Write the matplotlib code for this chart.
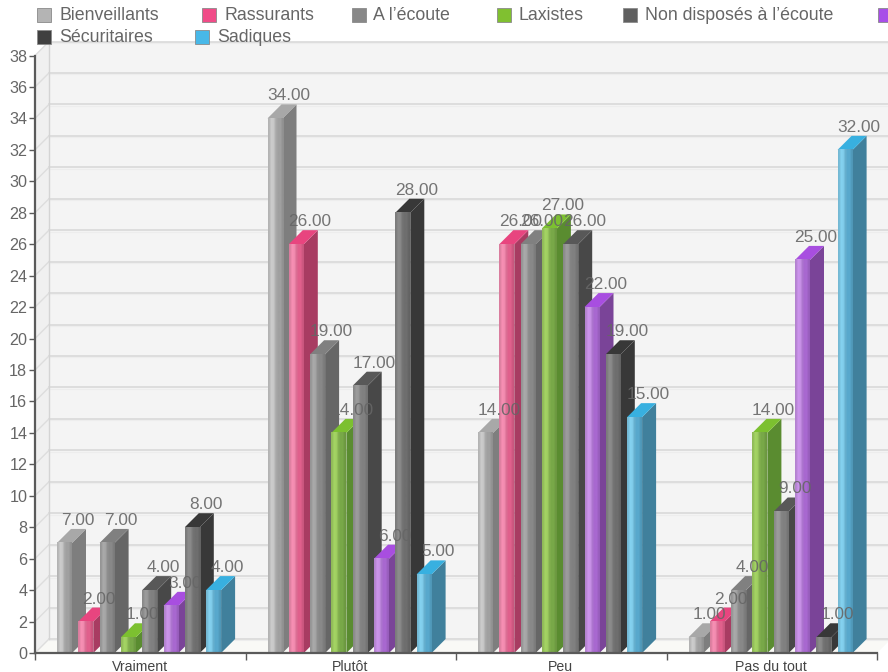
import numpy as np
import matplotlib
matplotlib.use("Agg")
import matplotlib.pyplot as plt
from matplotlib.patches import Polygon, Rectangle
from matplotlib.colors import to_rgb

categories = ["Vraiment", "Plutôt", "Peu", "Pas du tout"]
series_names = ["Bienveillants", "Rassurants", "A l’écoute", "Laxistes",
                "Non disposés à l’écoute", "", "Sécuritaires", "Sadiques"]

bienveillants = [7, 34, 14, 1]
rassurants = [2, 26, 26, 2]
a_lecoute = [7, 19, 26, 4]
laxistes = [1, 14, 27, 14]
non_disposes = [4, 17, 26, 9]
violets = [3, 6, 22, 25]
securitaires = [8, 28, 19, 1]
sadiques = [4, 5, 15, 32]
all_series = [bienveillants, rassurants, a_lecoute, laxistes,
              non_disposes, violets, securitaires, sadiques]

y_ticks = list(range(0, 39, 2))

# swatch, top, side, front left, front right
palette = [
    ("#b4b4b4", "#a8a8a8", "#7e7e7e", "#cccccc", "#a0a0a0"),
    ("#f04c88", "#e8457f", "#a83c62", "#f78fb4", "#e0608c"),
    ("#888888", "#808080", "#666666", "#aaaaaa", "#888888"),
    ("#80c030", "#7cc030", "#5a8c30", "#a4d464", "#78a848"),
    ("#606060", "#585858", "#484848", "#9c9c9c", "#808080"),
    ("#a84ee8", "#a84ee0", "#7a4498", "#cc94ec", "#a868d0"),
    ("#404040", "#383838", "#383838", "#8c8c8c", "#6e6e6e"),
    ("#48b8e8", "#38b0e0", "#40809c", "#84d2f0", "#58a8cc"),
]

W, H = 888, 672
LEFT, RIGHT, BASE, TOP = 35, 877, 653, 55.5
CAT_PX = (RIGHT - LEFT) / len(categories)
UNIT_PX = (BASE - TOP) / 38
DEPTH = 14
BAR_PX = 15
FIRST_PX = 22
STEP_PX = 21.3

plt.rcParams["font.family"] = ["Liberation Sans", "DejaVu Sans"]
TEXT = "#666666"

fig = plt.figure(figsize=(W / 100, H / 100), dpi=100, facecolor="white")
ax = fig.add_axes([LEFT / W, 1 - BASE / H, (RIGHT - LEFT) / W, (BASE - TOP) / H])
ax.set_xlim(0, len(categories))
ax.set_ylim(0, 38)
ax.patch.set_visible(False)

dx = DEPTH / CAT_PX
dy = DEPTH / UNIT_PX
xmax = len(categories)

# back wall, side wall and floor
ax.add_patch(Rectangle((dx, dy), xmax, 38, fc="#f4f4f4", ec="none", zorder=1, clip_on=False))
ax.add_patch(Polygon([(0, 0), (dx, dy), (dx, 38 + dy), (0, 38)], fc="#f0f0f0", ec="none",
                     zorder=1, clip_on=False))
ax.add_patch(Polygon([(0, 0), (xmax, 0), (xmax + dx, dy), (dx, dy)], fc="#f9f9f6", ec="none",
                     zorder=1, clip_on=False))

for v in y_ticks:
    ax.plot([dx, xmax + dx], [v + dy, v + dy], color="#d6d6d6", lw=1.1, zorder=2, clip_on=False)
    ax.plot([dx, xmax + dx], [v + dy - 0.09, v + dy - 0.09], color="#ededed", lw=0.8, zorder=2, clip_on=False)
    ax.plot([0, dx], [v, v + dy], color="#dddddd", lw=1.0, zorder=2, clip_on=False)
ax.plot([dx, dx], [dy, 38 + dy], color="#d4d4d4", lw=1.0, zorder=2, clip_on=False)

# bars, left to right so each one sits in front of the previous side face
z = 3.0
bw = BAR_PX / CAT_PX
for s, values in enumerate(all_series):
    _, top_c, side_c, f_left, f_right = palette[s]
    c0, c1 = np.array(to_rgb(f_left)), np.array(to_rgb(f_right))
    ramp = np.array([c0 * 0.88, c0, c0 * 0.98, (c0 + c1) / 2 * 0.93, c1, c1, c1 * 0.9])
    for c, v in enumerate(values):
        x0 = c + (FIRST_PX + s * STEP_PX) / CAT_PX
        ax.add_patch(Polygon([(x0 + bw, 0), (x0 + bw + dx, dy), (x0 + bw + dx, v + dy), (x0 + bw, v)],
                             fc=side_c, ec="none", zorder=z, clip_on=False))
        ax.add_patch(Polygon([(x0, v), (x0 + bw, v), (x0 + bw + dx, v + dy), (x0 + dx, v + dy)],
                             fc=top_c, ec="none", zorder=z, clip_on=False))
        ax.imshow(ramp[np.newaxis, :, :], extent=(x0, x0 + bw, 0, v), aspect="auto",
                  interpolation="bilinear", zorder=z + 0.1, clip_on=False)
        z += 0.2

ax.set_xlim(0, len(categories))
ax.set_ylim(0, 38)

# value labels go above everything else
for s, values in enumerate(all_series):
    for c, v in enumerate(values):
        x0 = c + (FIRST_PX + s * STEP_PX) / CAT_PX
        ax.text(x0 + 21 / CAT_PX, v + dy + 4 / UNIT_PX, f"{v:.2f}", ha="center", va="baseline",
                fontsize=12.4, color=TEXT, alpha=0.9, zorder=50, clip_on=False)

# axes
for side in ("top", "right"):
    ax.spines[side].set_visible(False)
for side in ("left", "bottom"):
    ax.spines[side].set_color("#5a5a5a")
    ax.spines[side].set_linewidth(1.6)
    ax.spines[side].set_zorder(40)

ax.set_yticks(y_ticks)
ax.set_yticklabels([str(v) for v in y_ticks])
ax.tick_params(axis="y", length=4.5, width=1, color="#5a5a5a", labelcolor=TEXT, labelsize=11.6, pad=1)
ax.set_xticks(range(len(categories) + 1))
ax.set_xticklabels([])
ax.tick_params(axis="x", length=5, width=1, color="#5a5a5a")
for c, name in enumerate(categories):
    ax.text(c + 0.5 - 0.5 / CAT_PX, -0.42, name, ha="center", va="top", fontsize=10.2, color="#444444", clip_on=False)

# hand placed legend, two rows, the last entry of the first row runs off the edge
legend_row1 = [(0, 37, 59), (1, 202, 224), (2, 352, 373), (3, 497, 518), (4, 623, 645), (5, 878, 900)]
legend_row2 = [(6, 37, 59), (7, 195, 217)]
for items, cy, base_y in ((legend_row1, 15, 20), (legend_row2, 37, 42)):
    for s, sx, tx in items:
        fig.add_artist(Rectangle((sx / W, 1 - (cy + 7) / H), 14 / W, 14 / H, transform=fig.transFigure,
                                 fc=palette[s][0], ec="#8a8a8a", lw=0.6))
        fig.text(tx / W, 1 - base_y / H, series_names[s], ha="left", va="baseline", fontsize=12.8, color=TEXT)

fig.savefig("out.png", dpi=100)
